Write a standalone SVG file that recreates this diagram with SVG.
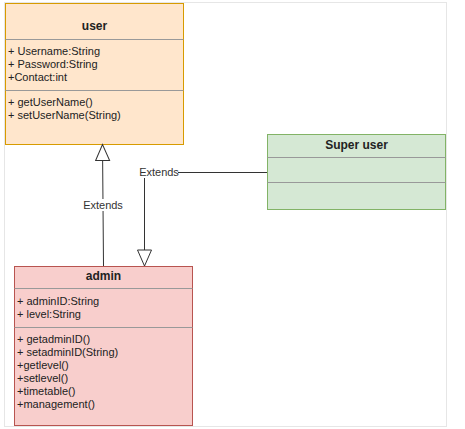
<svg xmlns="http://www.w3.org/2000/svg" width="465" height="429" viewBox="0 0 465 429">
<style>
  text { font-family: "Liberation Sans", Arial, sans-serif; font-size: 11px; fill: #222; }
  .title { font-weight: bold; font-size: 12px; text-anchor: middle; }
  .div { stroke: #999; stroke-width: 1; fill: none; }
  .edge { stroke: #333; stroke-width: 1; fill: none; }
  .lbl { text-anchor: middle; fill: #333; }
</style>
<defs>
  <marker id="tri" viewBox="0 0 18 18" refX="17" refY="8" markerWidth="18" markerHeight="18" markerUnits="userSpaceOnUse" orient="auto">
    <path d="M1,1 L17,8 L1,15 Z" fill="#fff" stroke="#333" stroke-width="1"/>
  </marker>
</defs>
<rect x="4.5" y="2.5" width="442" height="424" fill="#fff" stroke="#e6e6e6"/>

<g id="user">
  <rect x="5.5" y="3.5" width="178" height="141" fill="#ffe6cc" stroke="#d79b00"/>
  <line class="div" x1="5.5" y1="39.5" x2="183.5" y2="39.5"/>
  <line class="div" x1="5.5" y1="90.5" x2="183.5" y2="90.5"/>
  <text class="title" x="94.5" y="29.5">user</text>
  <text x="8" y="55">+ Username:String</text>
  <text x="8" y="68">+ Password:String</text>
  <text x="8" y="81">+Contact:int</text>
  <text x="8" y="106">+ getUserName()</text>
  <text x="8" y="119">+ setUserName(String)</text>
</g>

<g id="superuser">
  <rect x="267.5" y="134.5" width="178" height="75" fill="#d5e8d4" stroke="#82b366"/>
  <line class="div" x1="267.5" y1="157.5" x2="445.5" y2="157.5"/>
  <line class="div" x1="267.5" y1="182.5" x2="445.5" y2="182.5"/>
  <text class="title" x="356.5" y="148.5">Super user</text>
</g>

<g id="admin">
  <rect x="14.5" y="266.5" width="178" height="159" fill="#f8cecc" stroke="#b85450"/>
  <line class="div" x1="14.5" y1="288.5" x2="192.5" y2="288.5"/>
  <line class="div" x1="14.5" y1="327.5" x2="192.5" y2="327.5"/>
  <text class="title" x="103.5" y="279.5">admin</text>
  <text x="17" y="305">+ adminID:String</text>
  <text x="17" y="318">+ level:String</text>
  <text x="17" y="343">+ getadminID()</text>
  <text x="17" y="356">+ setadminID(String)</text>
  <text x="17" y="369">+getlevel()</text>
  <text x="17" y="382">+setlevel()</text>
  <text x="17" y="395">+timetable()</text>
  <text x="17" y="408">+management()</text>
</g>

<g id="connectors">
  <path class="edge" d="M103.5,266 L102.5,144.5" marker-end="url(#tri)"/>
  <rect x="83" y="199" width="40" height="12" fill="#fff"/>
  <text class="lbl" x="103" y="209">Extends</text>
  <path class="edge" d="M267,172.5 L144.5,172.5 L144.5,266" marker-end="url(#tri)"/>
  <rect x="140" y="166" width="38" height="12" fill="#fff"/>
  <text class="lbl" x="159" y="176">Extends</text>
</g>
</svg>
